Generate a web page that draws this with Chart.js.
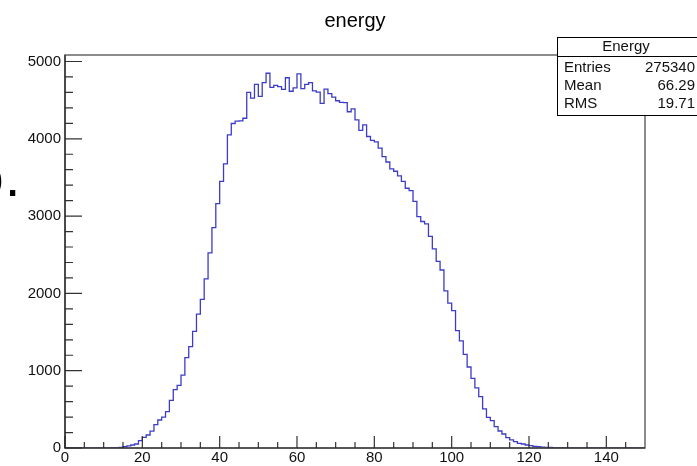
<!DOCTYPE html>
<html>
<head>
<meta charset="utf-8">
<title>energy</title>
<script src="https://cdn.jsdelivr.net/npm/chart.js@4.4.1/dist/chart.umd.min.js"></script>
<style>
  html, body { margin: 0; padding: 0; background: #fff; }
</style>
</head>
<body>
<canvas id="energyChart" width="697" height="466"></canvas>
<script>
// histogram: 150 bins of width 1 from 0 to 150
const binLow = Array.from({ length: 150 }, (_, i) => i);
const counts = [
  0, 0, 0, 0, 0, 0, 0, 0, 0, 0,
  1, 2, 3, 5, 9, 17, 28, 39, 52, 95,
  138, 168, 218, 302, 362, 400, 470, 615, 755, 810,
  942, 1169, 1311, 1510, 1732, 1922, 2187, 2523, 2851, 3161,
  3450, 3675, 4050, 4198, 4228, 4233, 4266, 4600, 4525, 4705,
  4550, 4727, 4848, 4665, 4692, 4675, 4640, 4790, 4615, 4660,
  4840, 4650, 4703, 4727, 4621, 4604, 4459, 4643, 4584, 4540,
  4492, 4472, 4468, 4350, 4388, 4244, 4110, 4180, 4030, 3980,
  3960, 3880, 3770, 3700, 3610, 3580, 3520, 3450, 3360, 3330,
  3190, 2994, 2930, 2900, 2738, 2575, 2415, 2303, 2033, 1875,
  1778, 1518, 1385, 1210, 1048, 901, 778, 664, 505, 397,
  353, 276, 220, 181, 134, 104, 82, 60, 52, 39,
  30, 22, 16, 12, 9, 7, 5, 4, 3, 2,
  1, 0, 0, 0, 0, 0, 0, 0, 0, 0,
  0, 0, 0, 0, 0, 0, 0, 0, 0, 0
];
const xTicks = [0, 20, 40, 60, 80, 100, 120, 140];
const yTicks = [0, 1000, 2000, 3000, 4000, 5000];
const histName = "Energy";
const statsLabels = ["Entries", "Mean", "RMS"];
const statsValues = ["275340", "66.29", "19.71"];

const xMax = 150;
const yMax = 5084;
const FONT = "'Liberation Sans', Arial, Helvetica, sans-serif";

// left edges + closing point so the last bin gets its top
const points = binLow.map((x, i) => ({ x: x, y: counts[i] }));
points.push({ x: xMax, y: counts[counts.length - 1] });

// ROOT style frame with ticks pointing inward
const rootFrame = {
  id: "rootFrame",
  afterDatasetsDraw(chart) {
    const { ctx, chartArea: a, scales } = chart;
    const x = scales.x, y = scales.y;
    ctx.save();
    ctx.strokeStyle = "#666";
    ctx.lineWidth = 1.5;
    ctx.strokeRect(a.left, a.top, a.right - a.left, a.bottom - a.top);

    ctx.strokeStyle = "#333";
    ctx.lineWidth = 1.2;
    ctx.beginPath();
    for (let v = 0; v < xMax; v += 5) {
      const px = x.getPixelForValue(v);
      const len = v % 20 === 0 ? 12 : 6;
      ctx.moveTo(px, a.bottom);
      ctx.lineTo(px, a.bottom - len);
    }
    for (let v = 0; v < yMax; v += 200) {
      const py = y.getPixelForValue(v);
      const len = v % 1000 === 0 ? 17 : 8;
      ctx.moveTo(a.left, py);
      ctx.lineTo(a.left + len, py);
    }
    ctx.stroke();
    // axis lines
    ctx.strokeStyle = "#222";
    ctx.beginPath();
    ctx.moveTo(a.left, a.top);
    ctx.lineTo(a.left, a.bottom);
    ctx.lineTo(a.right, a.bottom);
    ctx.stroke();
    ctx.restore();
  },
  afterDraw(chart) {
    const ctx = chart.ctx;
    ctx.save();
    // stats box
    const bx = 557.5, by = 37.5, bw = 150, bh = 78;
    ctx.fillStyle = "#fff";
    ctx.fillRect(bx, by, bw, bh);
    ctx.strokeStyle = "#000";
    ctx.lineWidth = 1;
    ctx.strokeRect(bx, by, bw, bh);
    ctx.beginPath();
    ctx.moveTo(bx, 56.5);
    ctx.lineTo(bx + bw, 56.5);
    ctx.stroke();

    ctx.fillStyle = "#111";
    ctx.font = "15px " + FONT;
    ctx.textBaseline = "middle";
    ctx.textAlign = "center";
    ctx.fillText(histName, 626, 47);
    const rowY = [67.5, 85.5, 103.5];
    statsLabels.forEach((lab, i) => {
      ctx.textAlign = "left";
      ctx.fillText(lab, 564, rowY[i]);
      ctx.textAlign = "right";
      ctx.fillText(statsValues[i], 695, rowY[i]);
    });

    // leftover glyphs cut at the left border of the picture
    ctx.fillStyle = "#000";
    ctx.font = "55px " + FONT;
    ctx.textBaseline = "alphabetic";
    ctx.textAlign = "right";
    ctx.fillText("o", 3.5, 196);
    ctx.textAlign = "left";
    ctx.fillText(".", 5, 196);
    ctx.restore();
  }
};

new Chart(document.getElementById("energyChart"), {
  type: "line",
  data: {
    datasets: [
      {
        label: histName,
        data: points,
        stepped: true,
        borderColor: "#3c3cc8",
        borderWidth: 1.3,
        pointRadius: 0,
        fill: false,
      },
    ],
  },
  options: {
    responsive: false,
    animation: false,
    devicePixelRatio: 1,
    layout: {
      padding: { top: 0, right: 52, bottom: 0, left: 0 },
    },
    plugins: {
      legend: { display: false },
      tooltip: { enabled: false },
      title: {
        display: true,
        text: "energy",
        fullSize: false,
        color: "#000",
        font: { family: FONT, size: 20, weight: "normal" },
        padding: { top: 9, bottom: 22 },
      },
    },
    scales: {
      x: {
        type: "linear",
        min: 0,
        max: xMax,
        grid: { display: false, drawTicks: false },
        border: { display: false },
        afterBuildTicks: (scale) => {
          scale.ticks = xTicks.map((v) => ({ value: v }));
        },
        afterFit: (scale) => {
          scale.height = 18;
        },
        ticks: {
          padding: 1,
          maxRotation: 0,
          color: "#111",
          font: { family: FONT, size: 15 },
          callback: (v) => String(v),
        },
      },
      y: {
        type: "linear",
        min: 0,
        max: yMax,
        grid: { display: false, drawTicks: false },
        border: { display: false },
        afterBuildTicks: (scale) => {
          scale.ticks = yTicks.map((v) => ({ value: v }));
        },
        afterFit: (scale) => {
          scale.width = 65;
        },
        ticks: {
          padding: 4,
          color: "#111",
          font: { family: FONT, size: 15 },
          callback: (v) => String(v),
        },
      },
    },
  },
  plugins: [rootFrame],
});
</script>
</body>
</html>
